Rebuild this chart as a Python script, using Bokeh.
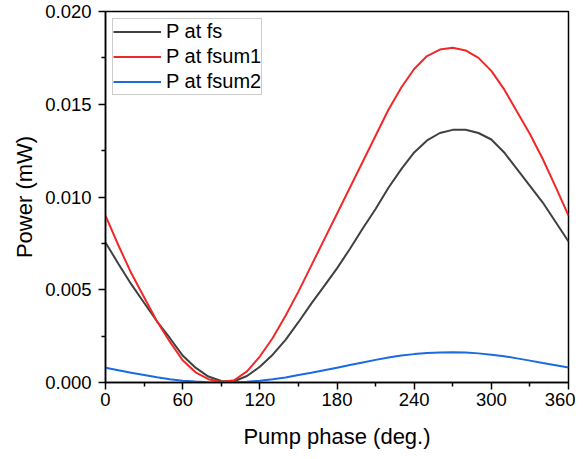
from bokeh.plotting import figure
from bokeh.models import FixedTicker, PrintfTickFormatter, Range1d, Legend, LegendItem
from bokeh.embed import file_html
from bokeh.resources import INLINE

phase = [0, 10, 20, 30, 40, 50, 60, 70, 80, 90, 100, 110, 120, 130, 140, 150, 160, 170, 180,
         190, 200, 210, 220, 230, 240, 250, 260, 270, 280, 290, 300, 310, 320, 330, 340, 350, 360]

p_fs = [0.00755, 0.00640, 0.00530, 0.00430, 0.00330, 0.00240, 0.00145, 0.00080, 0.00032, 0.00008,
        0.00007, 0.00035, 0.00085, 0.00150, 0.00230, 0.00325, 0.00425, 0.00520, 0.00615,
        0.00720, 0.00830, 0.00935, 0.01050, 0.01150, 0.01240, 0.01305, 0.01345, 0.01362,
        0.01363, 0.01345, 0.01310, 0.01240, 0.01150, 0.01060, 0.00970, 0.00865, 0.00760]

p_fsum1 = [0.00900, 0.00740, 0.00590, 0.00460, 0.00330, 0.00220, 0.00120, 0.00055, 0.00018, 0.00003,
           0.00012, 0.00060, 0.00140, 0.00240, 0.00360, 0.00490, 0.00630, 0.00770, 0.00910,
           0.01050, 0.01190, 0.01330, 0.01470, 0.01590, 0.01690, 0.01760, 0.01795, 0.01805,
           0.01790, 0.01750, 0.01680, 0.01580, 0.01460, 0.01340, 0.01205, 0.01055, 0.00900]

p_fsum2 = [0.00080, 0.00066, 0.00052, 0.00040, 0.00028, 0.00018, 0.00010, 0.00005, 0.00001, 0.00000,
           0.00001, 0.00004, 0.00010, 0.00018, 0.00027, 0.00040, 0.00052, 0.00066, 0.00080,
           0.00094, 0.00108, 0.00122, 0.00135, 0.00145, 0.00153, 0.00159, 0.00162, 0.00163,
           0.00162, 0.00157, 0.00150, 0.00142, 0.00130, 0.00118, 0.00105, 0.00093, 0.00081]

series_names = ["P at fs", "P at fsum1", "P at fsum2"]
series_colors = ["#404040", "#f02828", "#1a6be0"]

x_ticks = [0, 60, 120, 180, 240, 300, 360]
x_minor = [30, 90, 150, 210, 270, 330]
y_ticks = [0.0, 0.005, 0.010, 0.015, 0.020]
y_minor = [0.0025, 0.0075, 0.0125, 0.0175]

FONT = "Liberation Sans"

p = figure(width=575, height=451, output_backend="svg", toolbar_location=None,
           x_range=Range1d(0, 360), y_range=Range1d(0, 0.020),
           min_border_left=105, min_border_top=11, min_border_right=7, min_border_bottom=69)
p.xgrid.visible = False
p.ygrid.visible = False
p.outline_line_color = "black"
p.outline_line_width = 1.5
p.background_fill_color = "white"
p.border_fill_color = "white"

renderers = []
for ys, c in zip([p_fs, p_fsum1, p_fsum2], series_colors):
    r = p.line(phase, ys, line_color=c, line_width=2)
    renderers.append(r)

p.xaxis.ticker = FixedTicker(ticks=x_ticks, minor_ticks=x_minor)
p.yaxis.ticker = FixedTicker(ticks=y_ticks, minor_ticks=y_minor)
p.yaxis.formatter = PrintfTickFormatter(format="%.3f")

for ax in (p.xaxis[0], p.yaxis[0]):
    ax.axis_line_width = 1.5
    ax.axis_line_color = "black"
    ax.major_tick_line_width = 1.5
    ax.minor_tick_line_width = 1.5
    ax.major_tick_out = 7
    ax.major_tick_in = 0
    ax.minor_tick_out = 4
    ax.minor_tick_in = 0
    ax.major_label_text_font = FONT
    ax.major_label_text_font_size = "18.5px"
    ax.major_label_text_color = "black"
    ax.axis_label_text_font = FONT
    ax.axis_label_text_font_size = "22px"
    ax.axis_label_text_font_style = "normal"
    ax.axis_label_text_color = "black"

p.xaxis.axis_label = "Pump phase (deg.)"
p.yaxis.axis_label = "Power (mW)"
p.xaxis.major_label_standoff = 3
p.xaxis.axis_label_standoff = 15
p.yaxis.major_label_standoff = 7
p.yaxis.axis_label_standoff = 5

legend = Legend(items=[LegendItem(label=n, renderers=[r]) for n, r in zip(series_names, renderers)],
                location="top_left", margin=7, padding=0, spacing=0,
                glyph_width=48, glyph_height=25, label_height=25, label_standoff=5,
                label_text_font=FONT, label_text_font_size="20px", label_text_color="black",
                border_line_color="#999999", border_line_width=1,
                background_fill_color="white", background_fill_alpha=1)
p.add_layout(legend)

open("out.html", "w").write(file_html(p, INLINE))
